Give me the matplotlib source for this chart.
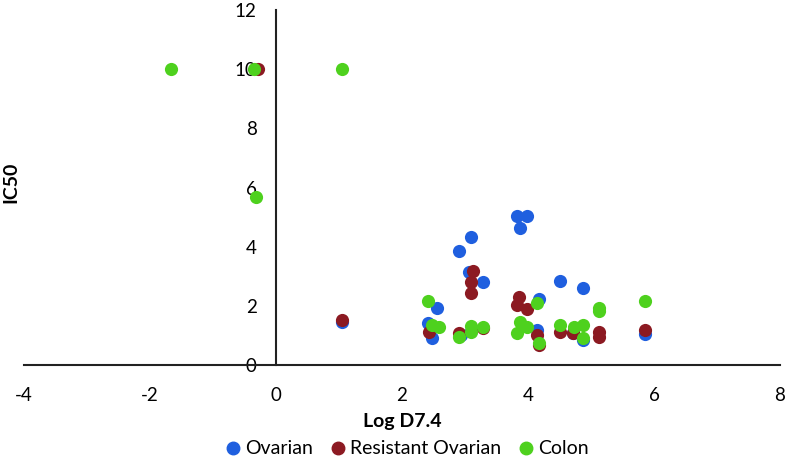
import matplotlib.pyplot as plt
from matplotlib.lines import Line2D

plt.rcParams['font.family'] = ['Lato', 'DejaVu Sans']
plt.rcParams['axes.unicode_minus'] = False

# data
ovarian_x = [1.04, 3.83, 3.98, 3.87, 3.09, 2.91, 3.07, 3.28, 4.51, 4.87, 4.18, 2.56, 2.42, 2.48,
             4.14, 4.72, 4.88, 5.86, 2.93, 3.10]
ovarian_y = [1.47, 5.03, 5.03, 4.62, 4.32, 3.86, 3.13, 2.79, 2.85, 2.59, 2.23, 1.93, 1.41, 0.90,
             1.18, 1.07, 0.84, 1.05, 1.00, 1.15]

resistant_x = [-0.29, 1.04, 3.13, 3.09, 3.09, 3.86, 3.82, 3.98, 2.43, 2.91, 3.28, 4.14, 4.18,
               4.51, 4.72, 5.13, 5.13, 5.86]
resistant_y = [10.0, 1.52, 3.18, 2.81, 2.45, 2.31, 2.03, 1.89, 1.10, 1.07, 1.24, 1.01, 0.68,
               1.13, 1.09, 1.13, 0.96, 1.20]

colon_x = [-1.67, -0.35, 1.05, -0.31, 2.42, 2.47, 2.58, 2.91, 3.09, 3.09, 3.28, 4.14, 3.87,
           3.98, 3.83, 4.18, 4.51, 4.73, 4.88, 4.88, 5.13, 5.13, 5.86]
colon_y = [10.0, 10.0, 10.0, 5.69, 2.16, 1.35, 1.29, 0.93, 1.32, 1.13, 1.29, 2.10, 1.46,
           1.29, 1.07, 0.73, 1.35, 1.29, 1.35, 0.92, 1.91, 1.84, 2.17]

c_ov = '#1F5FDF'
c_res = '#8C1A22'
c_col = '#4ED11E'

fig = plt.figure(figsize=(7.88, 4.59), dpi=100)
ax = fig.add_axes([24/788, 1-365/459, 756/788, 355/459])

ax.scatter(ovarian_x, ovarian_y, s=90, color=c_ov, zorder=3, linewidths=0)
ax.scatter(resistant_x, resistant_y, s=90, color=c_res, zorder=3, linewidths=0)
ax.scatter(colon_x, colon_y, s=90, color=c_col, zorder=3, linewidths=0)

ax.set_xlim(-4, 8)
ax.set_ylim(0, 12)
ax.set_xticks(range(-4, 9, 2))
ax.set_yticks(range(0, 13, 2))

ax.spines['left'].set_position(('data', 0))
ax.spines['right'].set_visible(False)
ax.spines['top'].set_visible(False)
for s in ['left', 'bottom']:
    ax.spines[s].set_linewidth(1.5)
    ax.spines[s].set_color('#222222')

ax.tick_params(axis='x', length=0, pad=16, labelsize=13.5)
ax.tick_params(axis='y', length=0, pad=14, labelsize=13.5)

fig.text(402/788, 1-421/459, 'Log D7.4', ha='center', va='center', fontsize=14, fontweight='bold')
fig.text(11/788, 1-182/459, 'IC50', ha='center', va='center', rotation=90, fontsize=14, fontweight='bold')

handles = [Line2D([], [], marker='o', linestyle='', color=c, markersize=9)
           for c in [c_ov, c_res, c_col]]
fig.legend(handles, ['Ovarian', 'Resistant Ovarian', 'Colon'], loc='center',
           bbox_to_anchor=(406/788, 1-449/459), ncol=3, frameon=False, fontsize=14,
           handletextpad=0.1, columnspacing=0.8, handlelength=1.0, borderpad=0)

fig.savefig('out.png', dpi=100)
